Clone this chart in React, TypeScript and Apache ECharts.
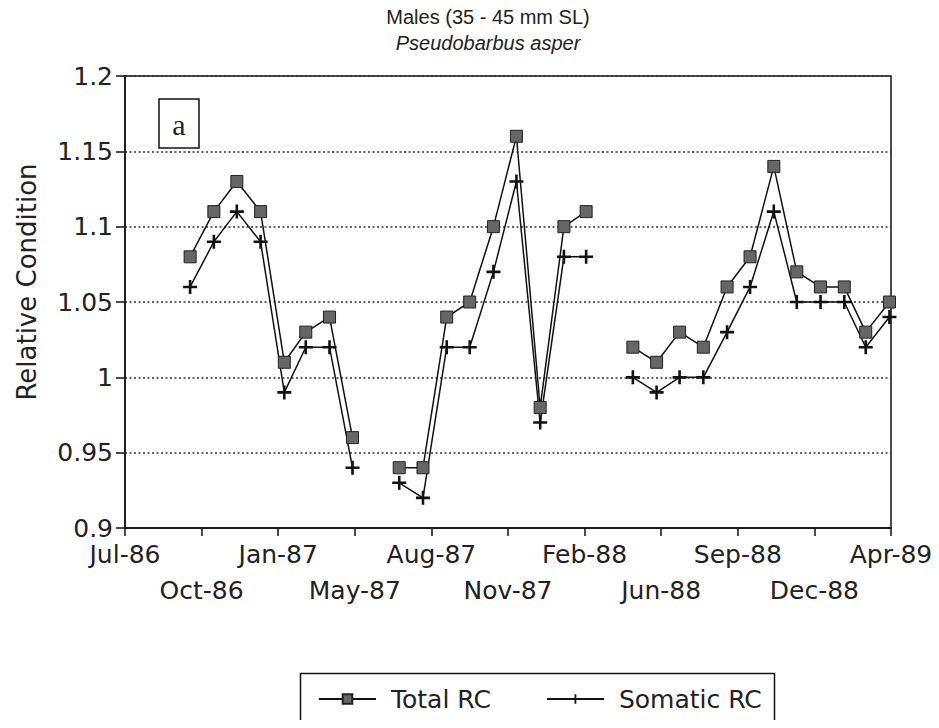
import React, { useEffect, useRef } from "react";
import * as echarts from "echarts";

// ---- data ----
const axisStart = "1986-07-08"; // date at the left end of the time axis (axis spans 1000 days)
const xTickLabels = ["Jul-86", "Oct-86", "Jan-87", "May-87", "Aug-87", "Nov-87", "Feb-88", "Jun-88", "Sep-88", "Dec-88", "Apr-89"];
const sampleDates = [
  "1986-10-01", "1986-11-01", "1986-12-01", "1987-01-01", "1987-02-01", "1987-03-01", "1987-04-01", "1987-05-01",
  "1987-06-01", "1987-07-01", "1987-08-01", "1987-09-01", "1987-10-01", "1987-11-01", "1987-12-01", "1988-01-01",
  "1988-02-01", "1988-03-01", "1988-04-01", "1988-05-01", "1988-06-01", "1988-07-01", "1988-08-01", "1988-09-01",
  "1988-10-01", "1988-11-01", "1988-12-01", "1989-01-01", "1989-02-01", "1989-03-01", "1989-04-01",
];
const totalRC = [
  1.08, 1.11, 1.13, 1.11, 1.01, 1.03, 1.04, 0.96,
  null, 0.94, 0.94, 1.04, 1.05, 1.10, 1.16, 0.98,
  1.10, 1.11, null, 1.02, 1.01, 1.03, 1.02, 1.06,
  1.08, 1.14, 1.07, 1.06, 1.06, 1.03, 1.05,
];
const somaticRC = [
  1.06, 1.09, 1.11, 1.09, 0.99, 1.02, 1.02, 0.94,
  null, 0.93, 0.92, 1.02, 1.02, 1.07, 1.13, 0.97,
  1.08, 1.08, null, 1.00, 0.99, 1.00, 1.00, 1.03,
  1.06, 1.11, 1.05, 1.05, 1.05, 1.02, 1.04,
];

const FONT = "DejaVu Sans";
const DAY = 86400000;

function toPoints(values: (number | null)[]) {
  const t0 = Date.parse(axisStart);
  return sampleDates.map((d, i) => [
    (Date.parse(d) - t0) / DAY,
    values[i] === null ? "-" : values[i],
  ]);
}

const plusPath =
  "path://M-1.3,-7 L1.3,-7 L1.3,-1.3 L7,-1.3 L7,1.3 L1.3,1.3 L1.3,7 L-1.3,7 L-1.3,1.3 L-7,1.3 L-7,-1.3 L-1.3,-1.3 Z";

function xAxisFor(row: number) {
  return {
    type: "value",
    position: "bottom",
    min: 0,
    max: 1000,
    interval: 100,
    axisLine: { show: row === 0, onZero: false, lineStyle: { color: "#111", width: 1.5 } },
    axisTick: { show: row === 0, inside: false, length: 8, lineStyle: { color: "#111", width: 1.5 } },
    splitLine: { show: false },
    axisLabel: {
      fontFamily: FONT,
      fontSize: 25,
      margin: row === 0 ? 14 : 50,
      color: "#222",
      hideOverlap: false,
      showMinLabel: true,
      showMaxLabel: true,
      formatter: (v: number) => {
        const i = Math.round(v / 100);
        return i % 2 === row ? xTickLabels[i] ?? "" : "";
      },
    },
  };
}

export default function App() {
  const ref = useRef<HTMLDivElement>(null);
  useEffect(() => {
    if (!ref.current) return;
    const chart = echarts.init(ref.current, undefined, { renderer: "svg" });
    chart.setOption({
      animation: false,
      backgroundColor: "#fff",
      title: {
        text: "Males (35 - 45 mm SL)",
        subtext: "Pseudobarbus asper",
        left: 483,
        top: 2,
        textAlign: "center",
        itemGap: 6,
        textStyle: { fontFamily: "Liberation Sans Narrow, Liberation Sans", fontSize: 20, fontWeight: "normal", color: "#222" },
        subtextStyle: { fontFamily: "Liberation Sans Narrow, Liberation Sans", fontSize: 20, fontStyle: "italic", color: "#222" },
      },
      grid: {
        left: 125,
        top: 76,
        width: 766,
        height: 452,
        show: true,
        borderColor: "#111",
        borderWidth: 1.5,
        backgroundColor: "transparent",
      },
      legend: {
        data: ["Total RC", "Somatic RC"],
        left: 313,
        top: 679,
        itemWidth: 57,
        itemHeight: 12,
        itemGap: 55,
        textStyle: { fontFamily: FONT, fontSize: 25, color: "#222", padding: [0, 0, 0, 10], lineHeight: 30 },
      },
      xAxis: [xAxisFor(0), xAxisFor(1)],
      yAxis: {
        type: "value",
        min: 0.9,
        max: 1.2,
        interval: 0.05,
        axisLine: { show: true, lineStyle: { color: "#111", width: 1.5 } },
        axisTick: { show: true, inside: false, length: 9, lineStyle: { color: "#111", width: 1.5 } },
        splitLine: { show: true, lineStyle: { color: "#333", width: 1.5, type: [2, 2.5] } },
        axisLabel: { fontFamily: FONT, fontSize: 25, margin: 12, color: "#222" },
      },
      series: [
        {
          name: "Total RC",
          type: "line",
          xAxisIndex: 0,
          data: toPoints(totalRC),
          connectNulls: false,
          symbol: "rect",
          symbolSize: 12,
          lineStyle: { color: "#111", width: 1.5 },
          itemStyle: { color: "#666", borderColor: "#222", borderWidth: 1 },
          color: "#666",
          z: 3,
        },
        {
          name: "Somatic RC",
          type: "line",
          xAxisIndex: 0,
          data: toPoints(somaticRC),
          connectNulls: false,
          symbol: plusPath,
          symbolSize: 14,
          lineStyle: { color: "#111", width: 1.5 },
          itemStyle: { color: "#111" },
          color: "#111",
          z: 2,
        },
      ],
      graphic: [
        {
          type: "text",
          x: 27,
          y: 282,
          rotation: Math.PI / 2,
          style: {
            text: "Relative Condition",
            fontFamily: FONT,
            fontSize: 26,
            fill: "#222",
            align: "center",
            verticalAlign: "middle",
          },
        },
        {
          type: "rect",
          shape: { x: 159, y: 99, width: 40, height: 49 },
          style: { fill: "#fff", stroke: "#111", lineWidth: 1.5 },
          z: 10,
        },
        {
          type: "text",
          x: 179,
          y: 124,
          style: {
            text: "a",
            fontFamily: "Liberation Serif",
            fontSize: 30,
            fill: "#222",
            align: "center",
            verticalAlign: "middle",
          },
          z: 11,
        },
        {
          type: "rect",
          shape: { x: 300.5, y: 673.5, width: 474, height: 120 },
          style: { fill: "none", stroke: "#111", lineWidth: 1.5 },
          z: 10,
        },
      ],
    });
    return () => chart.dispose();
  }, []);
  return <div ref={ref} style={{ width: 939, height: 728, margin: -8 }} />;
}
